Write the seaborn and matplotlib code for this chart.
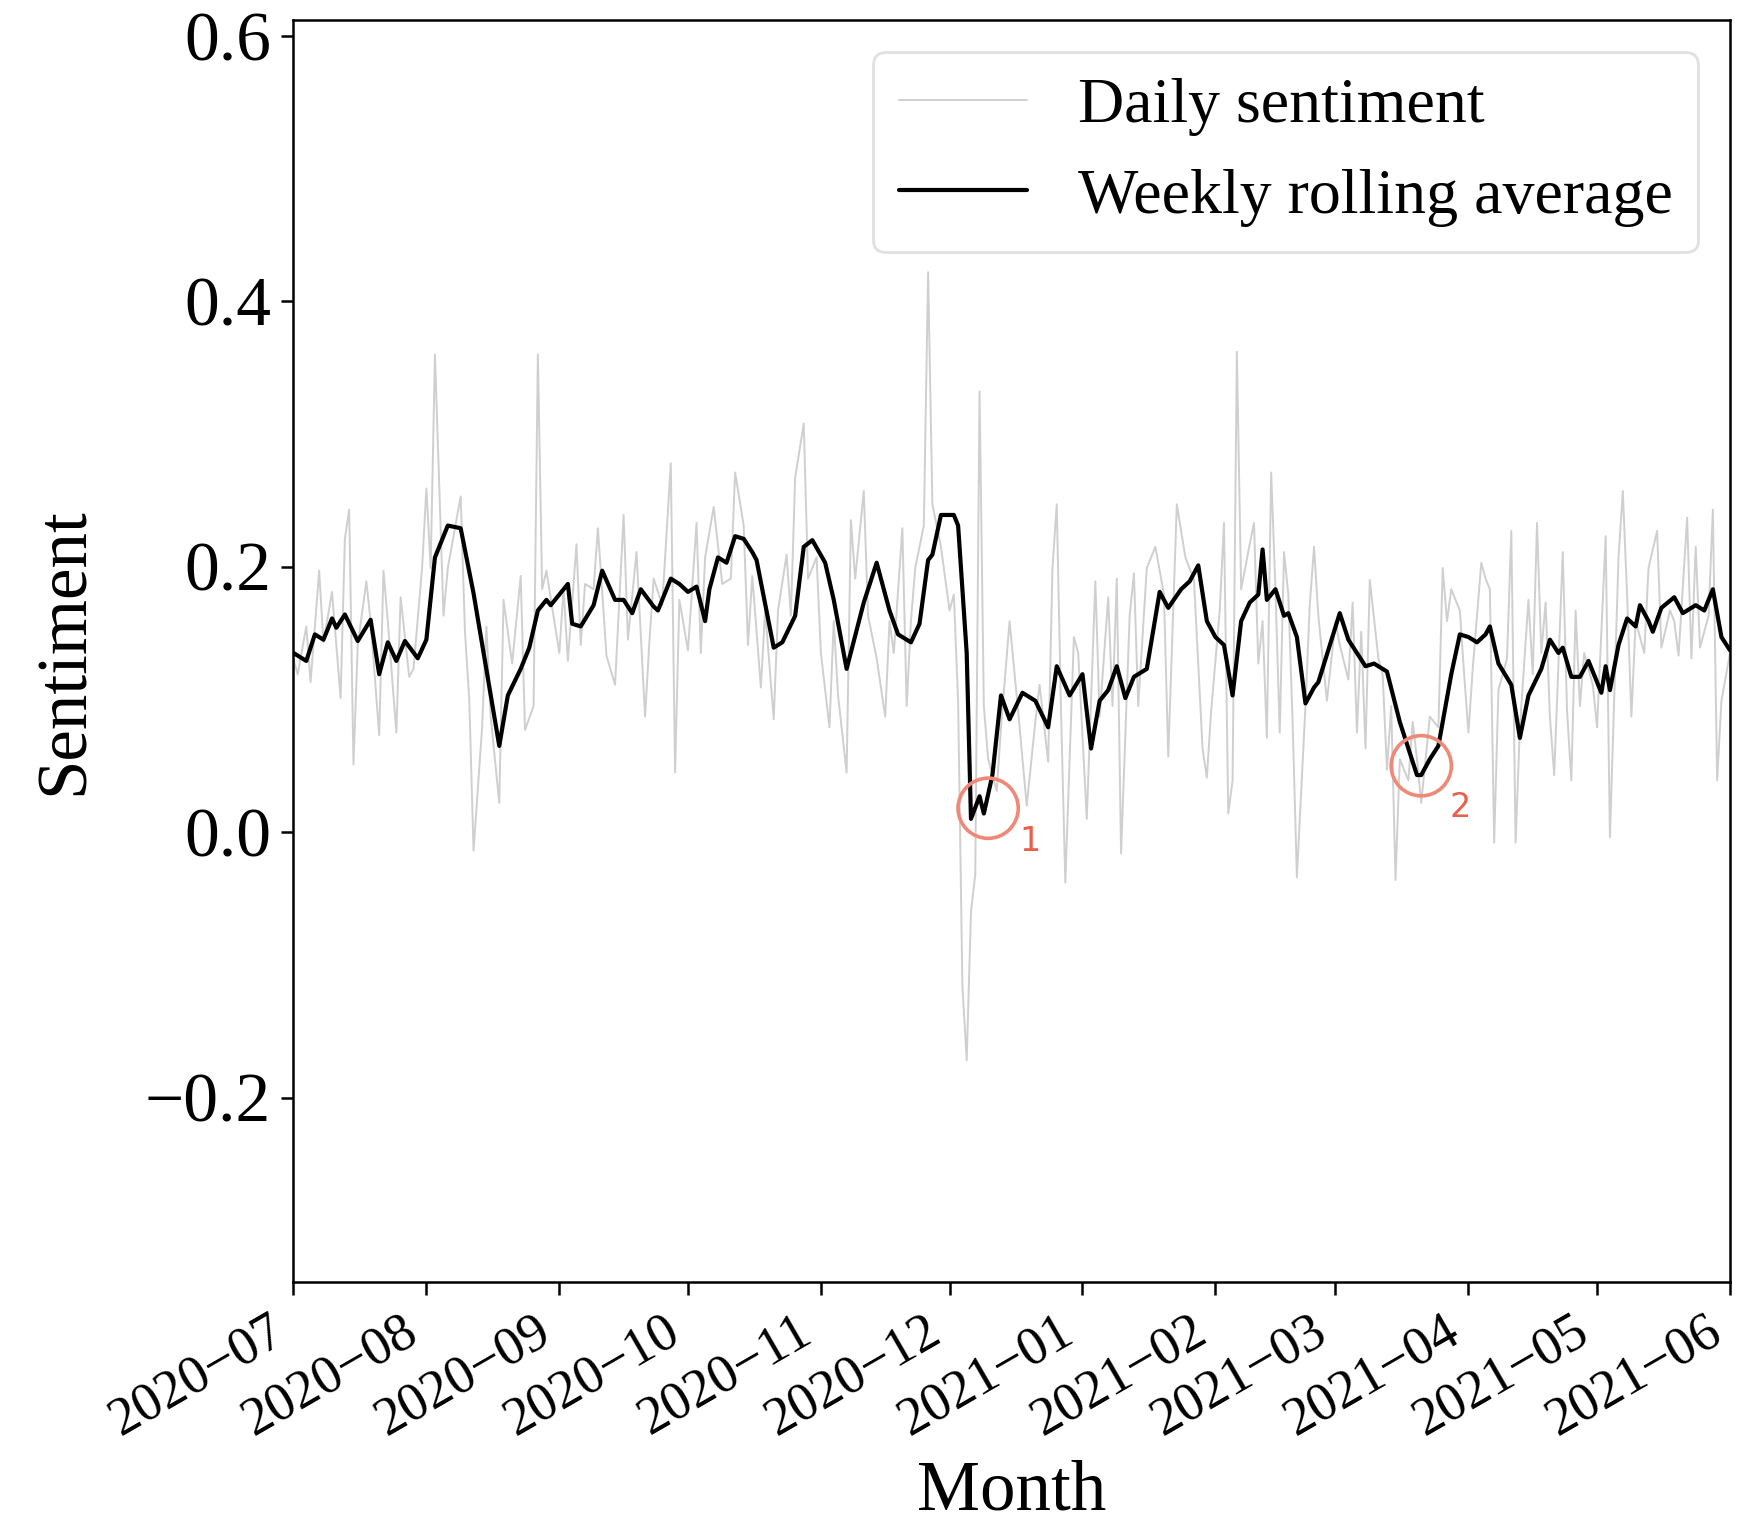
import matplotlib
matplotlib.use("Agg")
import matplotlib.pyplot as plt
import matplotlib.dates as mdates
import numpy as np
import pandas as pd
import seaborn as sns

# ---------------- data ----------------
start_date = "2020-07-01"
end_date = "2021-06-01"

# daily sentiment: day offsets from start_date and values
daily_days = [
    0, 1, 3, 4, 6, 7, 9, 11, 12, 13,
    14, 15, 17, 18, 20, 21, 22, 24, 25, 27,
    28, 30, 31, 32, 33, 35, 36, 39, 40, 41,
    42, 44, 45, 46, 48, 49, 51, 53, 54, 56,
    57, 58, 59, 62, 63, 64, 66, 67, 68, 70,
    71, 73, 75, 77, 78, 80, 82, 83, 84, 86,
    88, 89, 90, 92, 94, 95, 96, 98, 100, 102,
    103, 105, 106, 107, 109, 110, 112, 113, 115, 116,
    117, 119, 120, 122, 123, 125, 126, 127, 129, 130,
    131, 133, 134, 136, 138, 139, 140, 142, 143, 144,
    145, 147, 148, 149, 151, 153, 154, 155, 156, 157,
    158, 159, 160, 161, 162, 164, 165, 167, 169, 171,
    173, 174, 176, 177, 178, 179, 180, 182, 183, 185,
    187, 188, 190, 191, 192, 193, 195, 196, 197, 199,
    201, 203, 204, 206, 208, 210, 212, 213, 214, 216,
    217, 218, 219, 220, 221, 223, 224, 225, 226, 227,
    228, 229, 230, 231, 232, 233, 234, 236, 237, 238,
    239, 241, 243, 244, 246, 247, 248, 249, 250, 251,
    253, 254, 255, 256, 257, 258, 260, 261, 262, 263,
    265, 267, 268, 269, 270, 272, 273, 274, 275, 277,
    278, 279, 280, 281, 283, 284, 285, 286, 288, 289,
    290, 291, 292, 293, 294, 296, 297, 298, 299, 300,
    301, 303, 304, 306, 307, 309, 310, 311, 312, 313,
    315, 316, 318, 319, 321, 322, 323, 325, 326, 327,
    328, 330, 331, 332, 333, 335,
]
daily_vals = [
    0.130, 0.119, 0.155, 0.113, 0.197, 0.143, 0.181, 0.101, 0.221, 0.243,
    0.051, 0.141, 0.189, 0.159, 0.073, 0.197, 0.159, 0.075, 0.177, 0.117,
    0.123, 0.199, 0.259, 0.199, 0.360, 0.163, 0.199, 0.253, 0.151, 0.100,
    -0.014, 0.079, 0.155, 0.087, 0.022, 0.175, 0.127, 0.193, 0.077, 0.095,
    0.360, 0.183, 0.197, 0.135, 0.183, 0.129, 0.217, 0.141, 0.187, 0.183,
    0.229, 0.133, 0.111, 0.239, 0.145, 0.211, 0.087, 0.143, 0.191, 0.171,
    0.278, 0.045, 0.175, 0.137, 0.233, 0.135, 0.207, 0.245, 0.187, 0.191,
    0.271, 0.231, 0.141, 0.193, 0.109, 0.167, 0.085, 0.167, 0.209, 0.163,
    0.267, 0.308, 0.191, 0.207, 0.135, 0.079, 0.159, 0.103, 0.045, 0.235,
    0.191, 0.257, 0.163, 0.131, 0.087, 0.159, 0.135, 0.229, 0.095, 0.159,
    0.199, 0.231, 0.422, 0.247, 0.215, 0.167, 0.179, 0.099, -0.116, -0.172,
    -0.060, -0.032, 0.332, 0.095, 0.055, 0.031, 0.079, 0.159, 0.091, 0.020,
    0.083, 0.111, 0.053, 0.199, 0.247, 0.091, -0.038, 0.147, 0.135, 0.010,
    0.189, 0.087, 0.177, 0.095, 0.191, -0.016, 0.163, 0.195, 0.095, 0.199,
    0.215, 0.179, 0.057, 0.247, 0.207, 0.190, 0.063, 0.041, 0.091, 0.167,
    0.233, 0.014, 0.039, 0.362, 0.183, 0.217, 0.233, 0.127, 0.159, 0.071,
    0.271, 0.183, 0.075, 0.211, 0.179, 0.083, -0.034, 0.095, 0.171, 0.215,
    0.163, 0.099, 0.159, 0.141, 0.115, 0.173, 0.075, 0.151, 0.063, 0.190,
    0.131, 0.119, 0.047, 0.095, -0.036, 0.055, 0.039, 0.083, 0.055, 0.022,
    0.087, 0.079, 0.199, 0.159, 0.183, 0.167, 0.119, 0.075, 0.123, 0.203,
    0.191, 0.183, -0.008, 0.107, 0.131, 0.227, -0.008, 0.079, 0.175, 0.119,
    0.233, 0.135, 0.173, 0.087, 0.043, 0.211, 0.091, 0.039, 0.167, 0.095,
    0.135, 0.111, 0.079, 0.223, -0.004, 0.207, 0.257, 0.179, 0.087, 0.159,
    0.135, 0.199, 0.227, 0.139, 0.167, 0.159, 0.133, 0.237, 0.131, 0.215,
    0.139, 0.163, 0.243, 0.039, 0.099, 0.135,
]

# weekly rolling average: day offsets and values
weekly_days = [
    0, 3, 5, 7, 9, 10, 12, 15, 18, 20,
    22, 24, 26, 29, 31, 33, 36, 39, 42, 48,
    50, 53, 55, 57, 59, 60, 64, 65, 67, 70,
    72, 75, 77, 79, 81, 84, 85, 88, 90, 92,
    94, 96, 97, 99, 101, 103, 105, 107, 108, 112,
    114, 117, 119, 121, 124, 126, 129, 133, 136, 139,
    141, 144, 146, 148, 149, 151, 154, 155, 157, 158,
    160, 161, 163, 165, 167, 170, 173, 176, 178, 181,
    184, 186, 188, 190, 192, 194, 196, 199, 202, 204,
    207, 209, 211, 213, 215, 217, 219, 221, 223, 225,
    226, 227, 229, 231, 232, 234, 236, 238, 239, 244,
    246, 248, 250, 252, 255, 258, 262, 263, 265, 267,
    270, 272, 274, 276, 278, 279, 281, 284, 286, 288,
    291, 293, 295, 296, 298, 300, 302, 305, 306, 307,
    309, 311, 313, 314, 316, 317, 319, 322, 324, 327,
    329, 331, 333, 335,
]
weekly_vals = [
    0.135, 0.129, 0.149, 0.145, 0.161, 0.154, 0.164, 0.144, 0.160, 0.119,
    0.143, 0.129, 0.144, 0.131, 0.145, 0.207, 0.231, 0.229, 0.180, 0.065,
    0.103, 0.123, 0.139, 0.167, 0.175, 0.171, 0.187, 0.157, 0.155, 0.171,
    0.197, 0.175, 0.175, 0.165, 0.183, 0.170, 0.167, 0.191, 0.187, 0.181,
    0.185, 0.159, 0.183, 0.207, 0.203, 0.223, 0.221, 0.211, 0.205, 0.139,
    0.143, 0.163, 0.215, 0.220, 0.203, 0.175, 0.123, 0.173, 0.203, 0.167,
    0.149, 0.143, 0.157, 0.205, 0.209, 0.239, 0.239, 0.231, 0.135, 0.010,
    0.027, 0.014, 0.043, 0.103, 0.085, 0.105, 0.099, 0.079, 0.125, 0.103,
    0.119, 0.063, 0.099, 0.107, 0.125, 0.101, 0.117, 0.123, 0.181, 0.169,
    0.183, 0.189, 0.201, 0.159, 0.147, 0.141, 0.103, 0.159, 0.173, 0.179,
    0.213, 0.175, 0.183, 0.163, 0.165, 0.147, 0.097, 0.109, 0.113, 0.165,
    0.145, 0.135, 0.125, 0.127, 0.121, 0.083, 0.043, 0.043, 0.055, 0.065,
    0.119, 0.149, 0.147, 0.143, 0.149, 0.155, 0.127, 0.111, 0.071, 0.103,
    0.123, 0.145, 0.135, 0.139, 0.117, 0.117, 0.129, 0.105, 0.125, 0.107,
    0.141, 0.161, 0.155, 0.171, 0.159, 0.151, 0.169, 0.177, 0.165, 0.171,
    0.167, 0.183, 0.147, 0.137,
]

# highlighted events (circled) and their labels
event_dates = ["2020-12-10", "2021-03-21"]
event_vals = [0.018, 0.050]
event_labels = ["1", "2"]

assert len(daily_days) == len(daily_vals)
assert len(weekly_days) == len(weekly_vals)

# ---------------- figure ----------------
sns.set_theme(style="ticks")
plt.rcParams["font.family"] = ["Liberation Serif", "DejaVu Serif"]
plt.rcParams["font.size"] = 25
plt.rcParams["axes.labelsize"] = 25.5
plt.rcParams["xtick.labelsize"] = 19.5
plt.rcParams["ytick.labelsize"] = 25
plt.rcParams["legend.fontsize"] = 23
plt.rcParams["text.color"] = "black"
plt.rcParams["axes.labelcolor"] = "black"
plt.rcParams["axes.edgecolor"] = "black"
plt.rcParams["axes.linewidth"] = 0.9
plt.rcParams["xtick.color"] = "black"
plt.rcParams["ytick.color"] = "black"

t0 = pd.Timestamp(start_date)
daily_df = pd.DataFrame({
    "Month": t0 + pd.to_timedelta(daily_days, unit="D"),
    "Sentiment": daily_vals,
})
weekly_df = pd.DataFrame({
    "Month": t0 + pd.to_timedelta(weekly_days, unit="D"),
    "Sentiment": weekly_vals,
})

fig = plt.figure(figsize=(8.78, 7.62), dpi=200)
ax = fig.add_axes([0.1671, 0.1588, 0.8181, 0.8281])

sns.lineplot(data=daily_df, x="Month", y="Sentiment", ax=ax, color="#cfcfcf",
             linewidth=0.7, label="Daily sentiment")
sns.lineplot(data=weekly_df, x="Month", y="Sentiment", ax=ax, color="black",
             linewidth=1.5, label="Weekly rolling average")

ev_x = pd.to_datetime(event_dates)
ax.scatter(ev_x, event_vals, s=470, facecolors="none", edgecolors="#f08878",
           linewidths=1.3, zorder=5)
label_offsets = [(15, -12), (14, -15)]
for xd, yv, lab, off in zip(ev_x, event_vals, event_labels, label_offsets):
    ax.annotate(lab, xy=(xd, yv), xytext=off, textcoords="offset points",
                ha="center", va="center", color="#e8604c", fontsize=12,
                family="DejaVu Sans")

ax.set_xlim(pd.Timestamp(start_date), pd.Timestamp(end_date))
ax.set_ylim(-0.339, 0.612)
ax.set_yticks([-0.2, 0.0, 0.2, 0.4, 0.6])
ax.xaxis.set_major_locator(mdates.MonthLocator())
ax.xaxis.set_major_formatter(mdates.DateFormatter("%Y\u2212%m"))
for lbl in ax.get_xticklabels():
    lbl.set_rotation(30)
    lbl.set_ha("right")
ax.tick_params(axis="both", length=4.5, width=0.9, direction="out")
ax.tick_params(axis="x", pad=4)

ax.set_xlabel("Month", labelpad=5)
ax.set_ylabel("Sentiment", labelpad=17)

leg = ax.legend(loc="upper right", frameon=True, fancybox=True)
leg.get_frame().set_edgecolor("#d9d9d9")

fig.savefig("out.png", dpi=200)
